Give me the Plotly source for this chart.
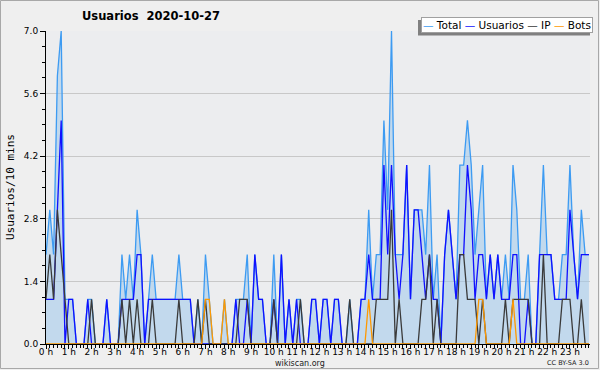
import plotly.graph_objects as go

# 10-minute slots for 2020-10-27 (144 slots), x expressed in hours
slots = list(range(144))
hours = [s / 6 for s in slots]

usuarios = [1,1,1,3,5,0,1,1,0,0, 0,1,0,0,0,0,1,0,0,0,
            1,1,1,1,2,2,0,1,1,1, 1,1,1,1,1,1,1,1,1,0,
            0,0,0,0,0,0,0,0,0,0, 1,0,0,1,0,2,1,1,0,0,
            1,0,2,0,1,0,1,0,0,0, 1,1,0,1,1,0,1,1,0,0,
            0,0,0,1,1,2,1,1,1,4, 2,4,2,1,2,4,1,3,3,2,
            1,2,1,1,0,2,3,2,1,2, 2,4,3,1,2,2,1,2,1,2,
            1,1,1,2,2,0,0,1,0,0, 2,2,2,2,1,1,1,1,3,2,
            1,2,2,2]
ip =       [1,2,1,3,2,1,0,0,0,0, 0,0,1,0,0,0,0,0,0,0,
            1,0,1,0,1,0,0,0,1,0, 0,0,0,0,0,1,0,0,0,0,
            1,0,1,0,0,0,0,0,0,0, 0,1,1,1,0,0,0,0,0,0,
            1,0,0,0,0,0,0,1,0,0, 0,0,0,0,0,0,0,0,0,0,
            1,0,0,0,0,0,0,1,1,1, 1,3,0,1,0,0,0,0,0,1,
            1,2,0,1,0,0,0,0,0,2, 2,1,1,1,0,1,0,0,0,0,
            0,1,0,1,1,1,1,1,0,0, 0,2,0,0,0,0,1,1,1,0,
            0,1,0,0]
bots =     [0,0,0,0,0,0,0,0,0,0, 0,0,0,0,0,0,0,0,0,0,
            0,0,0,0,0,0,0,0,0,0, 0,0,0,0,0,0,0,0,0,0,
            0,0,1,1,0,0,0,1,0,0, 0,0,0,0,0,0,0,0,0,0,
            0,0,0,0,0,0,0,0,0,0, 0,0,0,0,0,0,0,0,0,0,
            0,0,0,0,0,1,0,0,0,0, 0,0,0,0,0,0,0,0,0,0,
            0,0,0,0,0,0,0,0,0,0, 0,0,0,0,1,1,0,0,0,0,
            0,0,0,1,0,0,0,0,0,0, 0,0,0,0,0,0,0,0,0,0,
            0,0,0,0]
total =    [2,3,2,6,7,1,1,1,0,0, 0,1,1,0,0,0,1,0,0,0,
            2,1,2,1,3,2,0,1,2,1, 1,1,1,1,1,2,1,1,1,0,
            1,0,2,1,0,0,0,1,0,0, 1,1,1,2,0,2,1,1,0,0,
            2,0,2,0,1,0,1,1,0,0, 1,1,0,1,1,0,1,1,0,0,
            1,0,0,1,1,3,1,2,2,5, 3,7,2,2,2,4,1,3,3,3,
            2,4,1,2,0,2,3,2,1,4, 4,5,4,2,3,4,1,2,1,2,
            1,2,1,4,3,1,1,2,0,0, 2,4,2,2,1,1,2,2,4,2,
            1,3,2,2]

y_ticks = [0.0, 1.4, 2.8, 4.2, 5.6, 7.0]
x_ticks = list(range(24))
x_labels = [f"{h} h" for h in x_ticks]

FONT = "DejaVu Sans"
L, R, T, B = 46, 10, 31, 26
PW, PH = 600 - L - R, 370 - T - B

def px(x):
    return (x - L) / PW

def py(y):
    return (370 - B - y) / PH

fig = go.Figure()
fig.add_trace(go.Scatter(x=hours, y=total, name="Total", mode="lines",
                         line=dict(color="#3d9bf2", width=1.3),
                         fill="tozeroy", fillcolor="rgba(160,200,235,0.55)"))
fig.add_trace(go.Scatter(x=hours, y=usuarios, name="Usuarios", mode="lines",
                         line=dict(color="#1010ff", width=1.3)))
fig.add_trace(go.Scatter(x=hours, y=ip, name="IP", mode="lines",
                         line=dict(color="#3a3a3a", width=1.3)))
fig.add_trace(go.Scatter(x=hours, y=bots, name="Bots", mode="lines",
                         line=dict(color="#ff9900", width=1.3)))

fig.update_layout(
    width=600, height=370,
    margin=dict(l=L, r=R, t=T, b=B, autoexpand=False),
    paper_bgcolor="#efefef",
    plot_bgcolor="#ecedef",
    showlegend=False,
    hovermode=False,
    font=dict(family=FONT, size=9, color="#000"),
)
fig.update_xaxes(
    range=[0, 23.88], tickmode="array", tickvals=x_ticks, ticktext=x_labels,
    ticks="outside", ticklen=4, tickcolor="#000", tickwidth=1,
    showline=True, linecolor="#000", linewidth=1, showgrid=False, zeroline=False,
    tickfont=dict(family=FONT, size=9), automargin=False, ticklabelstandoff=-5,
    minor=dict(tickmode="linear", tick0=0, dtick=1/6, ticks="outside", ticklen=3,
               tickcolor="#000", showgrid=False),
)
fig.update_yaxes(
    range=[0, 7.0], tickmode="array", tickvals=y_ticks,
    ticktext=[f"{v:.1f}" for v in y_ticks],
    ticks="outside", ticklen=5, tickcolor="#000",
    showline=True, linecolor="#000", linewidth=1,
    showgrid=True, gridcolor="#c8c8c8", gridwidth=1, zeroline=False,
    tickfont=dict(family=FONT, size=9), automargin=False,
    minor=dict(tickmode="linear", tick0=0, dtick=0.35, ticks="outside", ticklen=3,
               tickcolor="#000", showgrid=False),
)

shapes = [
    # outer frame
    dict(type="rect", xref="paper", yref="paper", x0=px(0.5), x1=px(598.5),
         y0=py(368.5), y1=py(0.5), line=dict(color="#a8a8a8", width=1), layer="above"),
    # legend shadow
    dict(type="rect", xref="paper", yref="paper", x0=px(418), x1=px(590),
         y0=py(35.5), y1=py(20), line=dict(width=0), fillcolor="#808080", layer="above"),
]

legend_text = ("<span style='color:#3d9bf2'>—</span> Total "
               "<span style='color:#1010ff'>—</span> Usuarios "
               "<span style='color:#3a3a3a'>—</span> IP "
               "<span style='color:#ff9900'>—</span> Bots")

annotations = [
    dict(text="<b>Usuarios  2020-10-27</b>", x=px(151), y=py(16), xref="paper", yref="paper",
         showarrow=False, font=dict(family=FONT, size=11.5, color="#000"),
         xanchor="center", yanchor="middle"),
    dict(text=legend_text, x=px(593), y=py(24.5), xref="paper", yref="paper",
         showarrow=False, font=dict(family=FONT, size=10.5, color="#000"),
         xanchor="right", yanchor="middle", bgcolor="#ffffff",
         bordercolor="#a0a0a0", borderwidth=1, borderpad=1),
    dict(text="Usuarios/10 mins", x=px(10), y=py(187), xref="paper", yref="paper",
         showarrow=False, textangle=-90, font=dict(family="DejaVu Sans Mono", size=11, color="#000"),
         xanchor="center", yanchor="middle"),
    dict(text="wikiscan.org", x=px(300), y=py(363), xref="paper", yref="paper",
         showarrow=False, font=dict(family=FONT, size=8, color="#222"),
         xanchor="center", yanchor="middle"),
    dict(text="CC BY-SA 3.0", x=px(591), y=py(363), xref="paper", yref="paper",
         showarrow=False, font=dict(family=FONT, size=6.5, color="#222"),
         xanchor="right", yanchor="middle"),
]
fig.update_layout(shapes=shapes, annotations=annotations)

fig.write_html("out.html")
